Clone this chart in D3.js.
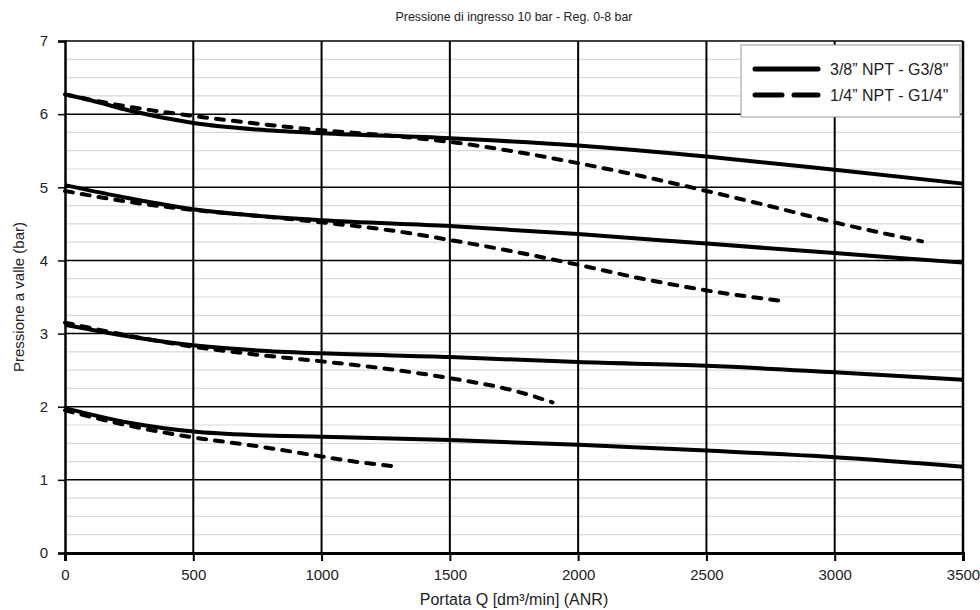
<!doctype html>
<html>
<head>
  <meta charset="utf-8">
  <script src="https://d3js.org/d3.v7.min.js"></script>
  <style>
    body { margin: 0; background: #fff; }
    text { font-family: "Liberation Sans", Arial, sans-serif; fill: #222; }
  </style>
</head>
<body>
  <script>
    // values
    var xTicks = [0, 500, 1000, 1500, 2000, 2500, 3000, 3500];
    var yTicks = [0, 1, 2, 3, 4, 5, 6, 7];
    var yMinor = d3.range(0, 7.01, 0.25);

    // 3/8" NPT - G3/8" (solid), [flow, pressure]
    var solid6 = [[0, 6.27], [100, 6.19], [250, 6.05], [500, 5.88], [750, 5.79], [1000, 5.74], [1500, 5.67], [2000, 5.57], [2500, 5.42], [3000, 5.24], [3500, 5.05]];
    var solid5 = [[0, 5.03], [250, 4.85], [500, 4.70], [750, 4.61], [1000, 4.55], [1500, 4.47], [2000, 4.36], [2500, 4.23], [3000, 4.10], [3500, 3.97]];
    var solid3 = [[0, 3.12], [250, 2.96], [500, 2.84], [750, 2.77], [1000, 2.73], [1500, 2.68], [2000, 2.61], [2500, 2.56], [3000, 2.47], [3500, 2.37]];
    var solid2 = [[0, 1.98], [250, 1.78], [500, 1.66], [750, 1.61], [1000, 1.59], [1500, 1.545], [2000, 1.48], [2500, 1.40], [3000, 1.31], [3500, 1.18]];

    // 1/4" NPT - G1/4" (dashed)
    var dash6 = [[0, 6.27], [250, 6.10], [500, 5.975], [750, 5.87], [1000, 5.78], [1250, 5.71], [1500, 5.62], [1750, 5.49], [2000, 5.33], [2250, 5.15], [2500, 4.95], [2750, 4.74], [3000, 4.52], [3340, 4.26]];
    var dash5 = [[0, 4.95], [250, 4.80], [500, 4.69], [750, 4.61], [1000, 4.52], [1250, 4.42], [1500, 4.28], [1750, 4.12], [2000, 3.94], [2250, 3.75], [2500, 3.59], [2810, 3.44]];
    var dash3 = [[0, 3.15], [250, 2.97], [500, 2.82], [750, 2.71], [1000, 2.62], [1250, 2.52], [1500, 2.39], [1750, 2.22], [1900, 2.06]];
    var dash2 = [[0, 1.95], [250, 1.74], [500, 1.58], [750, 1.46], [1000, 1.32], [1150, 1.24], [1300, 1.18]];

    var solidSeries = [solid6, solid5, solid3, solid2];
    var dashSeries = [dash6, dash5, dash3, dash2];
    var legendLabels = ["3/8\u201D NPT - G3/8\"", "1/4\u201D NPT - G1/4\""];

    var plotLeft = 65, plotRight = 963, plotTop = 41, plotBottom = 553;

    var svg = d3.select("body").append("svg")
      .attr("width", 980)
      .attr("height", 610);

    var x = d3.scaleLinear().domain([0, 3500]).range([plotLeft, plotRight]);
    var y = d3.scaleLinear().domain([0, 7]).range([plotBottom, plotTop]);

    // minor horizontal grid
    svg.append("g").selectAll("line")
      .data(yMinor.filter(function (d) { return d % 1 !== 0; }))
      .enter().append("line")
      .attr("x1", plotLeft).attr("x2", plotRight)
      .attr("y1", function (d) { return y(d); })
      .attr("y2", function (d) { return y(d); })
      .attr("stroke", "#d9d9d9")
      .attr("stroke-width", 1.2);

    // major grid
    svg.append("g").selectAll("line")
      .data(yTicks.slice(1))
      .enter().append("line")
      .attr("x1", plotLeft).attr("x2", plotRight)
      .attr("y1", function (d) { return y(d); })
      .attr("y2", function (d) { return y(d); })
      .attr("stroke", "#000")
      .attr("stroke-width", 1.5);

    svg.append("g").selectAll("line")
      .data(xTicks.slice(1))
      .enter().append("line")
      .attr("x1", function (d) { return x(d); })
      .attr("x2", function (d) { return x(d); })
      .attr("y1", plotTop).attr("y2", plotBottom)
      .attr("stroke", "#000")
      .attr("stroke-width", function (d) { return d === 3500 ? 2.5 : 2; });

    // axes
    var yAxis = svg.append("g")
      .attr("transform", "translate(" + plotLeft + ",0)")
      .call(d3.axisLeft(y).tickValues(yTicks).tickFormat(d3.format("d")).tickSize(7).tickPadding(10));
    yAxis.select(".domain").attr("stroke-width", 2.5);
    yAxis.selectAll(".tick line").attr("stroke-width", 1.5);
    yAxis.selectAll("text").attr("font-size", 15).style("font-family", "Liberation Sans, Arial, sans-serif").attr("fill", "#222");

    var xAxis = svg.append("g")
      .attr("transform", "translate(0," + plotBottom + ")")
      .call(d3.axisBottom(x).tickValues(xTicks).tickFormat(d3.format("d")).tickSize(8).tickPadding(8));
    xAxis.select(".domain").attr("stroke-width", 3);
    xAxis.selectAll(".tick line").attr("stroke-width", 2);
    xAxis.selectAll("text").attr("font-size", 15).style("font-family", "Liberation Sans, Arial, sans-serif").attr("fill", "#222");

    // curves
    var line = d3.line()
      .x(function (d) { return x(d[0]); })
      .y(function (d) { return y(d[1]); })
      .curve(d3.curveMonotoneX);

    svg.append("g").selectAll("path")
      .data(solidSeries)
      .enter().append("path")
      .attr("d", line)
      .attr("fill", "none")
      .attr("stroke", "#000")
      .attr("stroke-width", 4);

    svg.append("g").selectAll("path")
      .data(dashSeries)
      .enter().append("path")
      .attr("d", line)
      .attr("fill", "none")
      .attr("stroke", "#000")
      .attr("stroke-width", 4)
      .attr("stroke-linecap", "round")
      .attr("stroke-dasharray", "8,9");

    // legend
    var legend = svg.append("g");
    legend.append("rect")
      .attr("x", 741).attr("y", 45)
      .attr("width", 219).attr("height", 72)
      .attr("fill", "#fff")
      .attr("stroke", "#999")
      .attr("stroke-width", 1);

    var dashes = [null, "27,12"];
    legend.selectAll(".item")
      .data(legendLabels)
      .enter().append("g")
      .attr("class", "item")
      .attr("transform", function (d, i) { return "translate(0," + (69 + i * 26) + ")"; })
      .each(function (d, i) {
        var g = d3.select(this);
        g.append("line")
          .attr("x1", 755).attr("x2", 818)
          .attr("stroke", "#000")
          .attr("stroke-width", 5)
          .attr("stroke-linecap", "round")
          .attr("stroke-dasharray", dashes[i]);
        g.append("text")
          .attr("x", 830).attr("y", 5.5)
          .attr("font-size", 16)
          .text(d);
      });

    // titles
    svg.append("text")
      .attr("x", (plotLeft + plotRight) / 2).attr("y", 21)
      .attr("text-anchor", "middle")
      .attr("font-size", 12.4)
      .text("Pressione di ingresso 10 bar - Reg. 0-8 bar");

    svg.append("text")
      .attr("x", (plotLeft + plotRight) / 2).attr("y", 605)
      .attr("text-anchor", "middle")
      .attr("font-size", 16)
      .text("Portata Q [dm\u00B3/min] (ANR)");

    svg.append("text")
      .attr("transform", "translate(24," + ((plotTop + plotBottom) / 2) + ") rotate(-90)")
      .attr("text-anchor", "middle")
      .attr("font-size", 15)
      .text("Pressione a valle (bar)");
  </script>
</body>
</html>
